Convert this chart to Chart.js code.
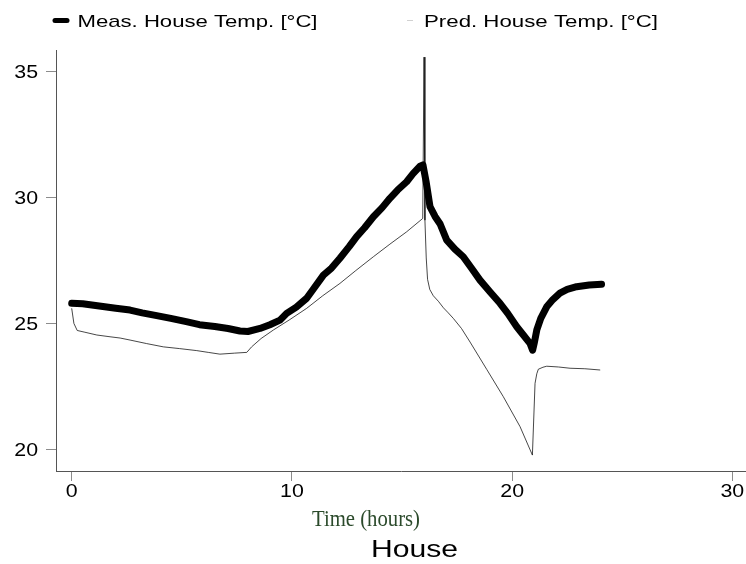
<!DOCTYPE html>
<html>
<head>
<meta charset="utf-8">
<title>House</title>
<script src="https://cdn.jsdelivr.net/npm/chart.js@4/dist/chart.umd.min.js"></script>
<style>
  html, body { margin: 0; padding: 0; background: #fff; }
  canvas { display: block; }
</style>
</head>
<body>
<canvas id="chart" width="746" height="564"></canvas>
<script>
// Measured house temperature over one day
const measTime = [0, 0.5, 1.0, 1.5, 2.0, 2.65, 3.2, 3.8, 4.5, 5.2, 5.8, 6.5, 7.1, 7.64, 8.0, 8.55, 9.0, 9.46, 9.76, 10.2,
  10.67, 11.0, 11.43, 11.8, 12.18, 12.6, 12.94, 13.3, 13.7, 14.1, 14.45, 14.8, 15.21, 15.5, 15.82, 15.95, 16.1, 16.27, 16.5, 16.73,
  17.03, 17.4, 17.78, 18.15, 18.54, 19.0, 19.45, 19.8, 20.21, 20.5, 20.81, 20.93, 21.0, 21.12, 21.3, 21.57, 21.85, 22.17, 22.5, 22.93,
  23.5, 24.06];
const measTemp = [25.80, 25.78, 25.72, 25.66, 25.60, 25.53, 25.42, 25.32, 25.20, 25.07, 24.95, 24.88, 24.80, 24.70, 24.68, 24.80, 24.95, 25.13, 25.40, 25.65,
  26.00, 26.40, 26.92, 27.20, 27.59, 28.05, 28.45, 28.80, 29.24, 29.60, 29.97, 30.30, 30.63, 30.95, 31.25, 31.30, 30.60, 29.64, 29.25, 28.95,
  28.31, 27.95, 27.65, 27.20, 26.72, 26.25, 25.80, 25.40, 24.87, 24.55, 24.21, 23.94, 24.20, 24.74, 25.20, 25.66, 25.95, 26.20, 26.35, 26.46,
  26.53, 26.56];

// Predicted house temperature from the model
const predTime = [0.0, 0.1, 0.25, 0.6, 1.14, 1.74, 2.2, 2.65, 3.4, 4.16, 4.9, 5.68, 6.2, 6.73, 7.4, 7.95, 8.17, 8.6, 9.16, 9.9,
  10.67, 11.4, 12.18, 12.9, 13.7, 14.45, 15.21, 15.94, 16.0, 16.04, 16.1, 16.16, 16.26, 16.42, 16.65, 16.88, 17.1, 17.33, 17.7, 18.09,
  18.85, 19.6, 20.36, 20.92, 21.04, 21.12, 21.19, 21.4, 21.57, 22.1, 22.63, 23.3, 24.0];
const predTemp = [25.60, 25.00, 24.72, 24.65, 24.54, 24.47, 24.42, 24.34, 24.20, 24.07, 24.00, 23.92, 23.85, 23.78, 23.82, 23.85, 24.07, 24.40, 24.74, 25.15,
  25.60, 26.10, 26.59, 27.10, 27.65, 28.15, 28.64, 29.17, 35.58, 29.10, 27.60, 26.75, 26.35, 26.10, 25.88, 25.62, 25.42, 25.20, 24.80, 24.26,
  23.17, 22.09, 20.90, 19.77, 22.62, 23.00, 23.18, 23.26, 23.30, 23.27, 23.22, 23.20, 23.15];

const xTicks = [0, 10, 20, 30];
const yTicks = [20, 25, 30, 35];
const seriesNames = ['Meas. House Temp. [°C]', 'Pred. House Temp. [°C]'];
const xTitle = 'Time (hours)';
const chartTitle = 'House';

const toPoints = (xs, ys) => xs.map((x, i) => ({ x: x, y: ys[i] }));

// Draws text squeezed or widened horizontally to a given advance width
function drawText(ctx, text, x, y, font, color, opts) {
  ctx.save();
  ctx.font = font;
  ctx.fillStyle = color;
  ctx.textBaseline = 'alphabetic';
  ctx.textAlign = 'left';
  const natural = ctx.measureText(text).width;
  const sx = opts.width ? opts.width / natural : (opts.scale || 1);
  const w = natural * sx;
  let left = x;
  if (opts.align === 'center') left = x - w / 2;
  else if (opts.align === 'right') left = x - w;
  ctx.translate(left, y);
  ctx.scale(sx, 1);
  ctx.fillText(text, 0, 0);
  ctx.restore();
}

const SANS = "'Liberation Sans', Arial, Helvetica, sans-serif";
const SERIF = "'Liberation Serif', 'Times New Roman', serif";

const textPlugin = {
  id: 'chartText',
  afterDraw(chart) {
    const ctx = chart.ctx;
    const xs = chart.scales.x, ys = chart.scales.y;

    // tick labels
    xs.ticks.forEach(t => {
      drawText(ctx, String(t.value), xs.getPixelForValue(t.value), 497, '17.5px ' + SANS, '#000', { align: 'center', scale: 1.22 });
    });
    ys.ticks.forEach(t => {
      drawText(ctx, String(t.value), 38, ys.getPixelForValue(t.value) + 6.3, '17.5px ' + SANS, '#000', { align: 'right', scale: 1.22 });
    });

    // legend
    ctx.save();
    ctx.strokeStyle = '#000';
    ctx.lineWidth = 5;
    ctx.lineCap = 'round';
    ctx.beginPath();
    ctx.moveTo(55, 20.5);
    ctx.lineTo(67, 20.5);
    ctx.stroke();
    ctx.strokeStyle = 'rgba(0,0,0,0.18)';
    ctx.lineWidth = 1;
    ctx.lineCap = 'butt';
    ctx.beginPath();
    ctx.moveTo(407, 20.5);
    ctx.lineTo(413, 20.5);
    ctx.stroke();
    ctx.restore();
    drawText(ctx, seriesNames[0], 77.5, 27, '17px ' + SANS, '#000', { width: 240 });
    drawText(ctx, seriesNames[1], 424, 27, '17px ' + SANS, '#000', { width: 234 });

    // axis title and chart caption
    drawText(ctx, xTitle, 366, 526, '23px ' + SERIF, '#2b4a2b', { align: 'center', width: 108 });
    drawText(ctx, chartTitle, 414.5, 557, '24px ' + SANS, '#000', { align: 'center', width: 87 });
  }
};

new Chart(document.getElementById('chart'), {
  type: 'line',
  data: {
    datasets: [
      {
        label: seriesNames[0],
        data: toPoints(measTime, measTemp),
        borderColor: '#000',
        borderWidth: 7,
        borderCapStyle: 'round',
        borderJoinStyle: 'round',
        pointRadius: 0,
        tension: 0,
        fill: false
      },
      {
        label: seriesNames[1],
        data: toPoints(predTime, predTemp),
        borderColor: 'rgba(0,0,0,0.72)',
        borderWidth: 1,
        pointRadius: 0,
        tension: 0,
        fill: false
      }
    ]
  },
  options: {
    responsive: false,
    animation: false,
    devicePixelRatio: 1,
    layout: { padding: { top: 50, left: 0, right: 0, bottom: 0 } },
    plugins: {
      legend: { display: false },
      title: { display: false },
      tooltip: { enabled: false }
    },
    scales: {
      x: {
        type: 'linear',
        min: -0.713,
        max: 30.62,
        afterBuildTicks: s => { s.ticks = xTicks.map(v => ({ value: v })); },
        afterFit: s => { s.height = 93; },
        ticks: { display: false },
        grid: { drawOnChartArea: false, drawTicks: true, tickLength: 10, color: '#8c8c8c', lineWidth: 1 },
        border: { display: true, color: '#555', width: 1 }
      },
      y: {
        type: 'linear',
        min: 19.138,
        max: 35.862,
        afterBuildTicks: s => { s.ticks = yTicks.map(v => ({ value: v })); },
        afterFit: s => { s.width = 56; },
        ticks: { display: false },
        grid: { drawOnChartArea: false, drawTicks: true, tickLength: 10, color: '#8c8c8c', lineWidth: 1 },
        border: { display: true, color: '#555', width: 1 }
      }
    }
  },
  plugins: [textPlugin]
});
</script>
</body>
</html>
